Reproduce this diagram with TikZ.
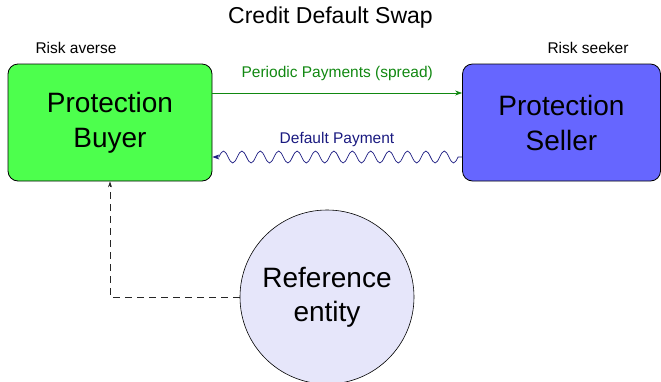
\documentclass[tikz,border=0pt]{standalone}
\usepackage{fontspec}
\setmainfont{Liberation Sans}
\usetikzlibrary{arrows.meta}
\definecolor{buyerfill}{HTML}{4DFF4D}
\definecolor{sellerfill}{HTML}{6666FF}
\definecolor{reffill}{HTML}{E6E6FA}
\definecolor{paygreen}{HTML}{118811}
\definecolor{paynavy}{HTML}{1A1A80}
\tikzset{
  party/.style={draw=black, line width=0.8pt, rounded corners=10pt, minimum width=204pt, minimum height=117pt, inner sep=0pt, align=center, font=\fontsize{28}{35}\selectfont},
  refnode/.style={draw=black, line width=0.6pt, circle, minimum size=174pt, inner sep=0pt, align=center, fill=reffill, font=\fontsize{28}{34}\selectfont},
  small/.style={font=\fontsize{15.5}{18}\selectfont, inner sep=0pt},
}
\begin{document}
\begin{tikzpicture}[x=1pt,y=-1pt]
\useasboundingbox (0,0) rectangle (661,381);
\node[font=\fontsize{23}{28}\selectfont, inner sep=0pt] (title) at (330.5,18) {Credit Default Swap};
\node[party, fill=buyerfill] (buyer) at (110,122.5) {Protection\\Buyer};
\node[party, fill=sellerfill, minimum width=198pt] (seller) at (561.5,122.5) {Protection\\Seller};
\node[refnode] (ref) at (327,297) {Reference\\entity};
\node[small] (averse) at (76,48) {Risk averse};
\node[small] (seeker) at (588,48) {Risk seeker};
\coordinate (pa) at (buyer.east |- 0,93);
\coordinate (pb) at (seller.west |- 0,93);
\draw[paygreen, line width=0.7pt, -{Stealth[length=7pt,width=5pt]}] (pa) -- node[above=12pt, small, paygreen] (plabel) {Periodic Payments (spread)} (pb);
\coordinate (da) at (seller.west |- 0,157);
\coordinate (db) at (buyer.east |- 0,157);
\draw[paynavy, line width=0.7pt, -{Stealth[length=7pt,width=5pt]}] (da) -- ++(-4,0)
  \foreach \i in {1,...,13} { sin ++(-4.6,6) cos ++(-4.6,-6) sin ++(-4.6,-6) cos ++(-4.6,6) } -- (db);
\node[small, paynavy] (dlabel) at (337,139) {Default Payment};
\draw[black!85, line width=0.7pt, dash pattern=on 7pt off 5pt, -{Stealth[length=6pt,width=4pt]}] (ref.west) -| (buyer.south);
\end{tikzpicture}
\end{document}
